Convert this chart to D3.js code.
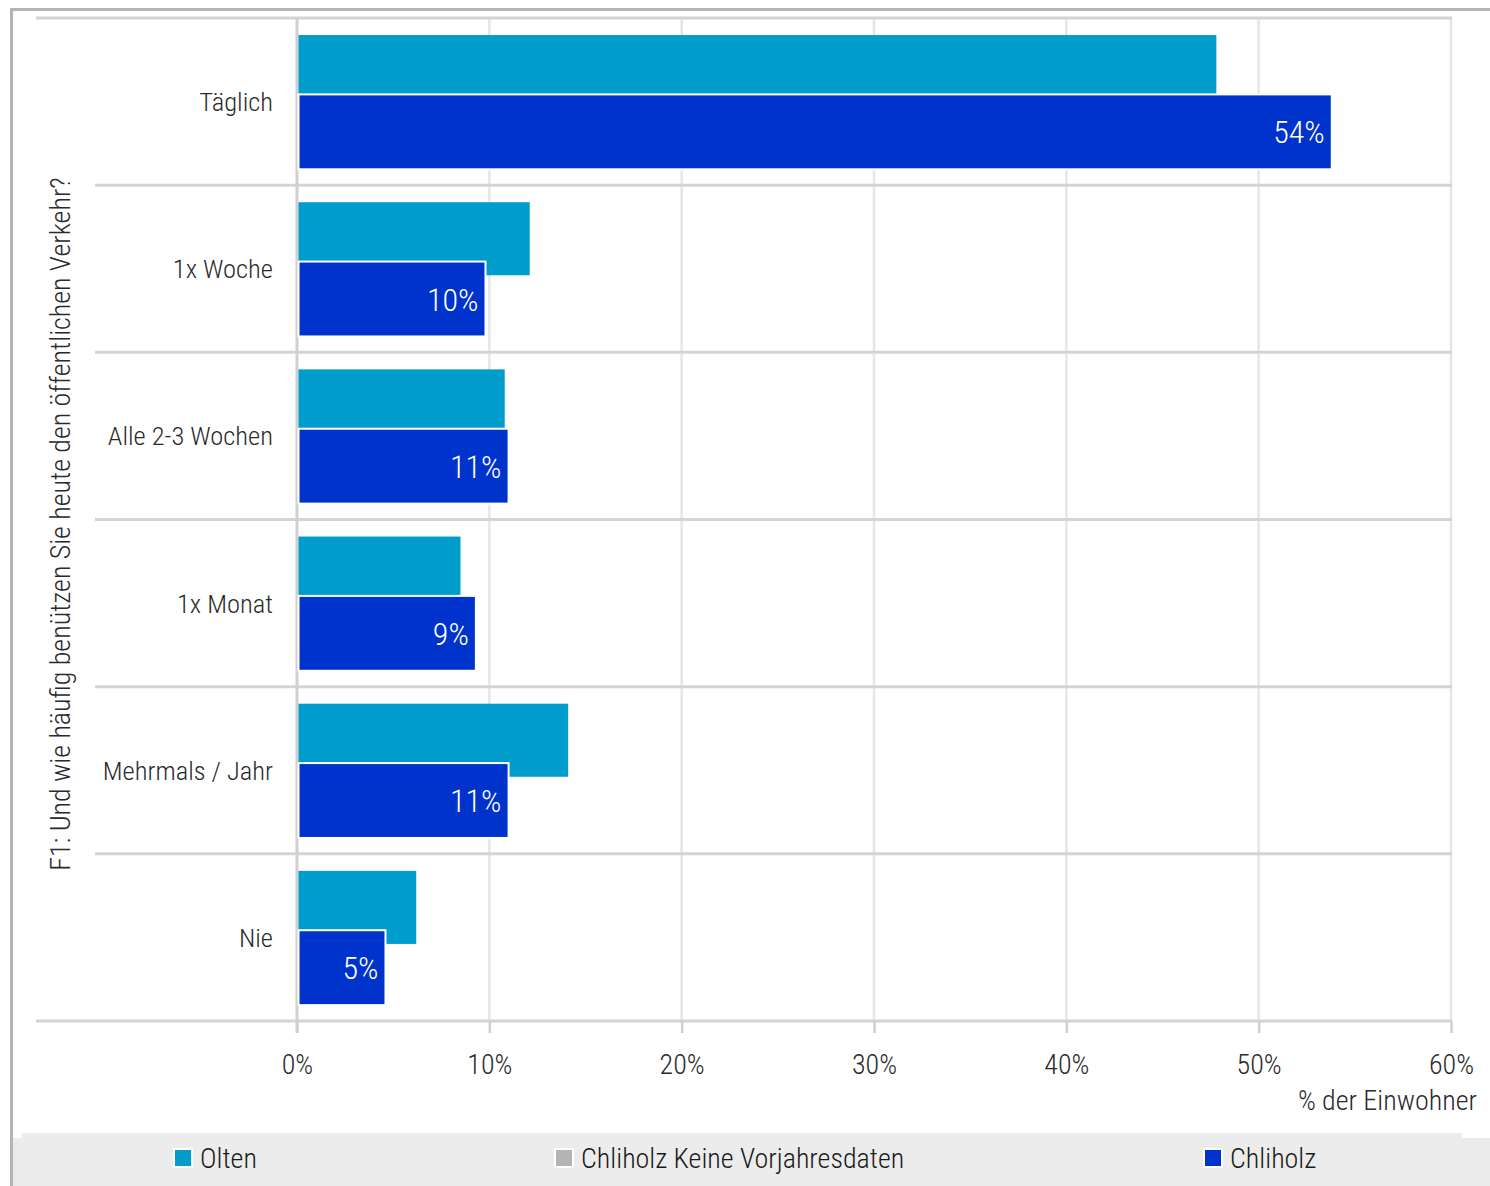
<!DOCTYPE html>
<html>
<head>
    <meta charset="utf-8" />
    <title>F1 Verkehr</title>
    <script src="https://d3js.org/d3.v7.min.js"></script>
    <style>
        body { margin: 0; background: #fff; }
        svg text { font-family: "Liberation Sans Narrow", "Arial Narrow", "Roboto Condensed", sans-serif; font-weight: 300; }
    </style>
</head>
<body>
<svg id="chart"></svg>
<script>
    // data
    var categories = ['Täglich', '1x Woche', 'Alle 2-3 Wochen', '1x Monat', 'Mehrmals / Jahr', 'Nie']
    var olten = [47.8, 12.1, 10.8, 8.5, 14.1, 6.2]
    var chliholz = [53.8, 9.8, 11.0, 9.3, 11.0, 4.6]
    var chliholzLabels = ['54%', '10%', '11%', '9%', '11%', '5%']
    var xTicks = [0, 10, 20, 30, 40, 50, 60]
    var legendNames = ['Olten', 'Chliholz Keine Vorjahresdaten', 'Chliholz']
    var legendColors = ['#009ccc', '#b4b4b4', '#0033cc']

    var W = 1490, H = 1186
    var plotLeft = 297, plotRight = 1451, plotTop = 18, plotBottom = 1021

    var svg = d3.select('#chart').attr('width', W).attr('height', H)

    var x = d3.scaleLinear().domain([0, 60]).range([plotLeft, plotRight])
    var y = d3.scaleBand().domain(categories).range([plotTop, plotBottom]).paddingInner(0).paddingOuter(0)
    var bw = y.bandwidth()

    // outer frame (only top and left visible)
    svg.append('line').attr('x1', 11).attr('x2', W).attr('y1', 9.5).attr('y2', 9.5)
        .attr('stroke', '#b4b4b4').attr('stroke-width', 3)
    svg.append('line').attr('x1', 11.5).attr('x2', 11.5).attr('y1', 8).attr('y2', H)
        .attr('stroke', '#b4b4b4').attr('stroke-width', 3)

    // vertical grid
    svg.append('g').selectAll('line').data(xTicks.slice(1)).join('line')
        .attr('x1', d => x(d)).attr('x2', d => x(d))
        .attr('y1', plotTop).attr('y2', plotBottom)
        .attr('stroke', '#e6e6e6').attr('stroke-width', 2.5)

    // category separators
    var seps = categories.map(c => y(c)).concat([plotBottom])
    svg.append('g').selectAll('line').data(seps).join('line')
        .attr('x1', (d, i) => (i == 0 || i == seps.length - 1) ? 36 : 95)
        .attr('x2', plotRight + 1)
        .attr('y1', d => d).attr('y2', d => d)
        .attr('stroke', '#d4d4d4').attr('stroke-width', 3)

    // x axis
    var xAxis = d3.axisBottom(x).tickValues(xTicks).tickFormat(d => d + '%').tickSize(12).tickPadding(21)
    var ax = svg.append('g').attr('transform', `translate(0,${plotBottom})`).call(xAxis)
    ax.select('.domain').remove()
    ax.selectAll('.tick line').attr('stroke', '#d0d0d0').attr('stroke-width', 2.5)
    ax.selectAll('.tick text').attr('fill', '#2a2a2a').style('font-size', '28px')

    // zero line
    svg.append('line').attr('x1', plotLeft).attr('x2', plotLeft)
        .attr('y1', plotTop).attr('y2', plotBottom + 12)
        .attr('stroke', '#d0d0d0').attr('stroke-width', 3)

    // bars
    svg.append('g').selectAll('rect').data(olten).join('rect')
        .attr('x', x(0) + 1.5)
        .attr('y', (d, i) => y(categories[i]) + bw * 0.102)
        .attr('width', d => x(d) - x(0) - 1.5)
        .attr('height', bw * 0.437)
        .attr('fill', '#009ccc')

    svg.append('g').selectAll('rect').data(chliholz).join('rect')
        .attr('x', x(0) + 1.5)
        .attr('y', (d, i) => y(categories[i]) + bw * 0.457)
        .attr('width', d => x(d) - x(0) - 1.5)
        .attr('height', bw * 0.448)
        .attr('fill', '#0033cc')
        .attr('stroke', '#fff').attr('stroke-width', 2)

    svg.append('g').selectAll('text').data(chliholz).join('text')
        .attr('x', d => x(d) - 7)
        .attr('y', (d, i) => y(categories[i]) + bw * 0.681)
        .attr('dy', '0.36em')
        .attr('text-anchor', 'end')
        .attr('fill', '#fff')
        .style('font-size', '32px')
        .text((d, i) => chliholzLabels[i])

    // category labels
    svg.append('g').selectAll('text').data(categories).join('text')
        .attr('x', 273)
        .attr('y', d => y(d) + bw / 2)
        .attr('dy', '0.36em')
        .attr('text-anchor', 'end')
        .attr('fill', '#2a2a2a')
        .style('font-size', '26.5px')
        .text(d => d)

    // axis titles
    svg.append('text')
        .attr('transform', `translate(70,${(180 + 868) / 2}) rotate(-90)`)
        .attr('text-anchor', 'middle')
        .attr('fill', '#2a2a2a')
        .style('font-size', '28px')
        .text('F1: Und wie häufig benützen Sie heute den öffentlichen Verkehr?')

    svg.append('text')
        .attr('x', 1477).attr('y', 1100).attr('dy', '0.36em')
        .attr('text-anchor', 'end')
        .attr('fill', '#2a2a2a')
        .style('font-size', '28px')
        .text('% der Einwohner')

    // legend
    svg.append('rect').attr('x', 22).attr('y', 1133).attr('width', 1440).attr('height', 10).attr('fill', '#ececec')
    svg.append('rect').attr('x', 13).attr('y', 1138).attr('width', W - 13).attr('height', H - 1138).attr('fill', '#ececec')

    var legendX = [174, 555, 1204]
    var lg = svg.append('g').selectAll('g').data(legendNames).join('g')
        .attr('transform', (d, i) => `translate(${legendX[i]},1149)`)
    lg.append('rect').attr('width', 18).attr('height', 18)
        .attr('fill', (d, i) => legendColors[i])
        .attr('stroke', '#fff').attr('stroke-width', 2)
    lg.append('text').attr('x', 26).attr('y', 9).attr('dy', '0.36em')
        .attr('fill', '#1a1a1a')
        .style('font-size', '28px')
        .text(d => d)
</script>
</body>
</html>
